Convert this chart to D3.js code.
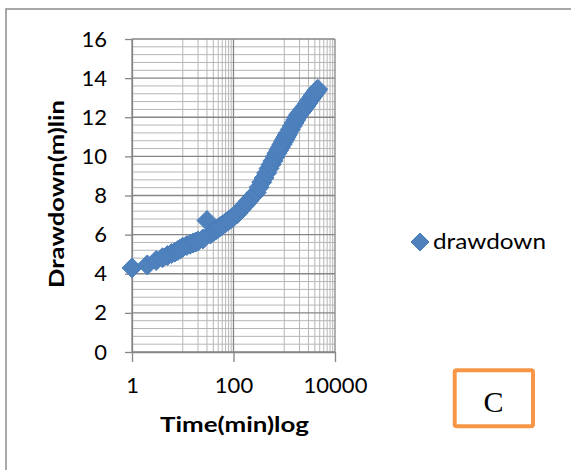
<!DOCTYPE html>
<html>
<head>
<meta charset="utf-8">
<script src="https://cdn.jsdelivr.net/npm/d3@7"></script>
<style>
  body { margin: 0; background: #fff; }
  svg { display: block; }
  .tick text { font-family: Lato, "Open Sans", sans-serif; font-size: 22px; fill: #000; }
</style>
</head>
<body>
<svg id="chart"></svg>
<script>
// time since pumping started (min) and measured drawdown (m)
const times = [1, 2, 3, 4, 5, 6, 7, 8, 9, 10, 12, 14, 16, 18, 20, 25, 30, 35, 40, 45,
  50, 55, 60, 70, 80, 90, 100, 120, 140, 160, 180, 200, 240, 280, 320, 360, 400, 450,
  500, 550, 600, 660, 720, 780, 840, 900, 960, 1020, 1080, 1140, 1200, 1320, 1440,
  1560, 1680, 1800, 1920, 2040, 2160, 2280, 2400, 2640, 2880, 3120, 3360, 3600, 3840,
  4080, 4320, 4560];
const drawdown = [4.30, 4.45, 4.68, 4.82, 4.93, 5.03, 5.11, 5.19, 5.27, 5.35, 5.44, 5.51,
  5.57, 5.62, 5.67, 5.78, 6.72, 6.03, 6.14, 6.24, 6.33, 6.41, 6.48, 6.61, 6.72, 6.82,
  6.91, 7.08, 7.28, 7.45, 7.60, 7.73, 7.96, 8.15, 8.42, 8.68, 8.90, 9.15, 9.38, 9.58,
  9.77, 9.98, 10.16, 10.32, 10.47, 10.61, 10.74, 10.86, 10.98, 11.09, 11.19, 11.38,
  11.55, 11.71, 11.86, 12.00, 12.12, 12.20, 12.28, 12.36, 12.43, 12.57, 12.70, 12.84,
  12.95, 13.06, 13.16, 13.25, 13.34, 13.43];

const yTicks = [0, 2, 4, 6, 8, 10, 12, 14, 16];
const xTicks = [1, 100, 10000];
const xMinor = [10, 20, 30, 40, 50, 60, 70, 80, 90, 1000, 2000, 3000, 4000, 5000, 6000, 7000, 8000, 9000];

const W = 571, H = 470;
const plot = { left: 132, right: 335, top: 39, bottom: 352 };
const blue = "#4f81bd";
const blueEdge = "#4a7ebb";

const svg = d3.select("#chart").attr("width", W).attr("height", H);

// outer chart border (runs off the right and bottom)
svg.append("rect")
  .attr("x", 6).attr("y", 9).attr("width", 700).attr("height", 700)
  .attr("fill", "#fff").attr("stroke", "#8c8c8c").attr("stroke-width", 1.5);

const x = d3.scaleLog().domain([1, 10000]).range([plot.left, plot.right]);
const y = d3.scaleLinear().domain([0, 16]).range([plot.bottom, plot.top]);

// minor gridlines
const yMinor = d3.range(0, 16.001, 0.4).filter(v => Math.abs(v / 2 - Math.round(v / 2)) > 1e-6);
svg.append("g").selectAll("line").data(yMinor).join("line")
  .attr("x1", plot.left).attr("x2", plot.right)
  .attr("y1", d => y(d)).attr("y2", d => y(d))
  .attr("stroke", "#b6b6b6").attr("stroke-width", 1);
svg.append("g").selectAll("line").data(xMinor).join("line")
  .attr("x1", d => x(d)).attr("x2", d => x(d))
  .attr("y1", plot.top).attr("y2", plot.bottom)
  .attr("stroke", "#b6b6b6").attr("stroke-width", 1);

// major gridlines
svg.append("g").selectAll("line").data(yTicks).join("line")
  .attr("x1", plot.left).attr("x2", plot.right)
  .attr("y1", d => y(d)).attr("y2", d => y(d))
  .attr("stroke", "#868686").attr("stroke-width", 1.3);
svg.append("g").selectAll("line").data(xTicks).join("line")
  .attr("x1", d => x(d)).attr("x2", d => x(d))
  .attr("y1", plot.top).attr("y2", plot.bottom)
  .attr("stroke", "#868686").attr("stroke-width", 1.3);

// axes
const yAxis = svg.append("g")
  .attr("transform", `translate(${plot.left},0)`)
  .call(d3.axisLeft(y).tickValues(yTicks).tickSize(7).tickSizeOuter(0).tickPadding(18));
const xAxis = svg.append("g")
  .attr("transform", `translate(0,${plot.bottom})`)
  .call(d3.axisBottom(x).tickValues(xTicks).tickFormat(d3.format("d"))
    .tickSize(10).tickSizeOuter(0).tickPadding(15));
[yAxis, xAxis].forEach(a => {
  a.select(".domain").attr("stroke", "#868686").attr("stroke-width", 1.3);
  a.selectAll(".tick line").attr("stroke", "#868686").attr("stroke-width", 1.3);
});

// series markers
const diamond = r => `M0,${-r}L${r},0L0,${r}L${-r},0Z`;
svg.append("g").selectAll("path")
  .data(times.map((t, i) => ({ t, s: drawdown[i] })))
  .join("path")
  .attr("d", diamond(10))
  .attr("transform", d => `translate(${x(d.t)},${y(d.s)})`)
  .attr("fill", blue).attr("stroke", blueEdge).attr("stroke-width", 1);

// axis titles
svg.append("text")
  .attr("transform", "translate(64,194) rotate(-90)")
  .attr("text-anchor", "middle")
  .attr("textLength", 188).attr("lengthAdjust", "spacingAndGlyphs")
  .style("font-family", "Lato, sans-serif").style("font-weight", "bold").style("font-size", "20px")
  .text("Drawdown(m)lin");

svg.append("text")
  .attr("x", 234.5).attr("y", 432)
  .attr("text-anchor", "middle")
  .attr("textLength", 149).attr("lengthAdjust", "spacingAndGlyphs")
  .style("font-family", "Lato, sans-serif").style("font-weight", "bold").style("font-size", "20px")
  .text("Time(min)log");

// legend
svg.append("path")
  .attr("d", diamond(9))
  .attr("transform", "translate(420,242)")
  .attr("fill", blue).attr("stroke", blueEdge).attr("stroke-width", 1);
svg.append("text")
  .attr("x", 433).attr("y", 248.5)
  .attr("textLength", 113).attr("lengthAdjust", "spacingAndGlyphs")
  .style("font-family", "Lato, sans-serif").style("font-size", "22px")
  .text("drawdown");

// panel label box
svg.append("rect")
  .attr("x", 454.7).attr("y", 370.3).attr("width", 78.3).attr("height", 56)
  .attr("rx", 2)
  .attr("fill", "#fff").attr("stroke", "#f79646").attr("stroke-width", 4);
svg.append("text")
  .attr("x", 493.5).attr("y", 411.5)
  .attr("text-anchor", "middle")
  .style("font-family", "'Liberation Serif', 'DejaVu Serif', serif").style("font-size", "30px")
  .text("C");
</script>
</body>
</html>
